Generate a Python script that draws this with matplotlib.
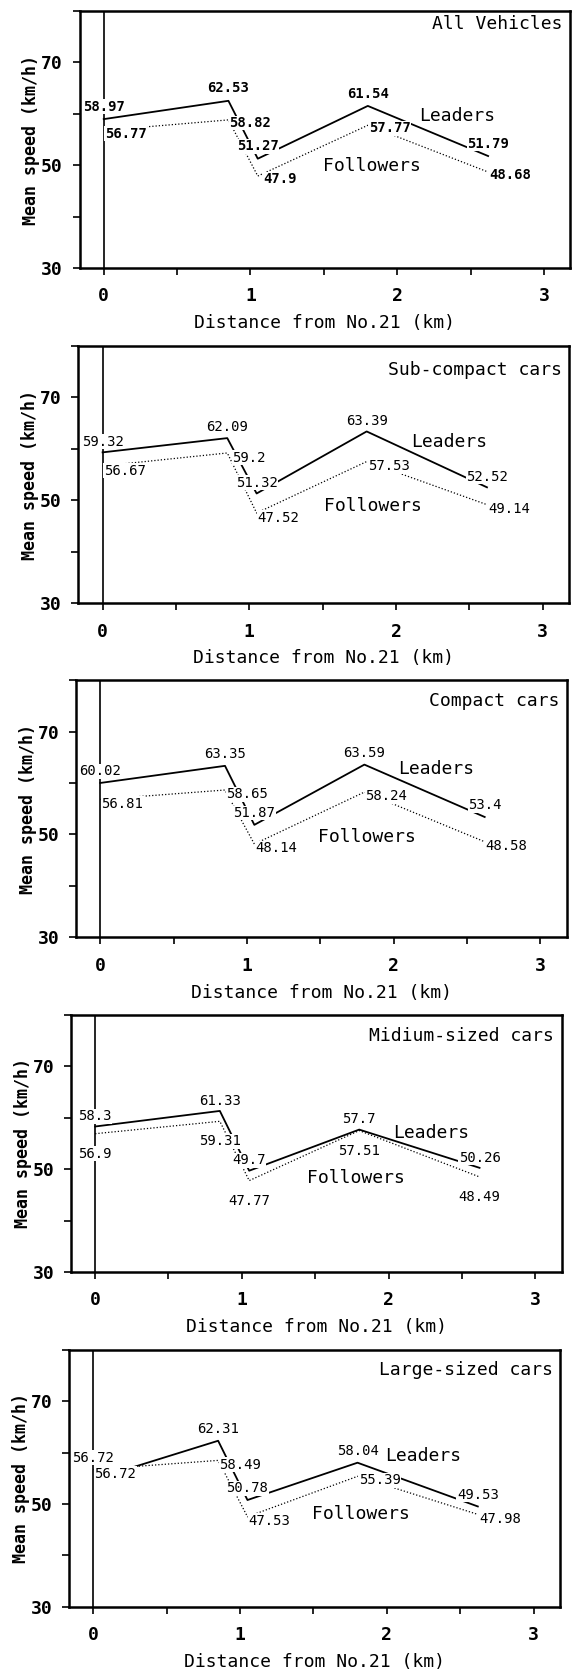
# 5-panel chart: mean speed of leaders / followers vs distance
import matplotlib.pyplot as plt
from matplotlib.ticker import MultipleLocator

plt.rcParams['font.family'] = ['DejaVu Sans Mono', 'DejaVu Sans']

titles = ['All Vehicles', 'Sub-compact cars', 'Compact cars',
          'Midium-sized cars', 'Large-sized cars']
dist = [0, 0.85, 1.05, 1.8, 2.62]
lead_start = [0, 0, 0, 0, 0.22]     # large-sized leaders line starts later

leaders = [
    [58.97, 62.53, 51.27, 61.54, 51.79],
    [59.32, 62.09, 51.32, 63.39, 52.52],
    [60.02, 63.35, 51.87, 63.59, 53.4],
    [58.3, 61.33, 49.7, 57.7, 50.26],
    [56.72, 62.31, 50.78, 58.04, 49.53],
]
followers = [
    [56.77, 58.82, 47.9, 57.77, 48.68],
    [56.67, 59.2, 47.52, 57.53, 49.14],
    [56.81, 58.65, 48.14, 58.24, 48.58],
    [56.9, 59.31, 47.77, 57.51, 48.49],
    [56.72, 58.49, 47.53, 55.39, 47.98],
]

# layout (axes positions, label offsets)
lefts = [0.139, 0.137, 0.133, 0.124, 0.121]
bottoms = [0.8396, 0.6391, 0.4391, 0.2388, 0.0384]
title_y = [0.95, 0.907, 0.918, 0.918, 0.922]
lead_dy = [2.4, 2.1, 2.3, 2.0, 2.3]
fol_dx = [0.15, 0.15, 0.15, 0.0, 0.15]
fol_dy = [-0.6, -0.9, -0.8, -3.9, -0.8]
lead_name_xy = [(2.41, 59.6), (2.36, 61.4), (2.29, 62.8), (2.29, 57.1), (2.25, 59.4)]
fol_name_xy = [(1.83, 49.8), (1.84, 48.8), (1.82, 49.5), (1.78, 48.3), (1.82, 48.0)]

fig = plt.figure(figsize=(5.72, 16.71), dpi=100)
box = dict(facecolor='white', edgecolor='none', pad=0.3)

for i in range(5):
    ax = fig.add_axes([lefts[i], bottoms[i], 0.858, 0.1538])
    ax.set_xlim(-0.165, 3.18)
    ax.set_ylim(30, 80)

    ax.axvline(0, color='black', lw=1.2, zorder=1)
    xl = [lead_start[i]] + dist[1:]
    ax.plot(xl, leaders[i], color='black', lw=1.3, zorder=2)
    ax.plot(dist, followers[i], color='black', lw=0.9, ls=(0, (1, 1.6)), zorder=2)

    w = 'bold' if i == 0 else 'normal'
    for j in range(len(dist)):
        ax.text(dist[j], leaders[i][j] + lead_dy[i], f'{leaders[i][j]:g}',
                ha='center', va='center', fontsize=10, fontweight=w,
                bbox=box, zorder=3)
        ax.text(dist[j] + fol_dx[i], followers[i][j] + fol_dy[i], f'{followers[i][j]:g}',
                ha='center', va='center', fontsize=10, fontweight=w,
                bbox=box, zorder=3)

    ax.text(*lead_name_xy[i], 'Leaders', ha='center', va='center', fontsize=13, zorder=3)
    ax.text(*fol_name_xy[i], 'Followers', ha='center', va='center', fontsize=13, zorder=3)
    ax.text(0.985, title_y[i], titles[i], transform=ax.transAxes,
            ha='right', va='center', fontsize=13)

    ax.set_yticks([30, 50, 70])
    ax.yaxis.set_minor_locator(MultipleLocator(10))
    ax.set_xticks([0, 1, 2, 3])
    ax.xaxis.set_minor_locator(MultipleLocator(0.5))
    ax.tick_params(which='both', direction='out', length=5, width=1.2)
    ax.tick_params(axis='x', which='major', pad=9, labelsize=13)
    ax.tick_params(axis='y', which='major', pad=7, labelsize=13)
    for lab in ax.get_xticklabels() + ax.get_yticklabels():
        lab.set_fontweight('bold')
    for s in ax.spines.values():
        s.set_linewidth(1.8)

    ax.set_xlabel('Distance from No.21 (km)', fontsize=13)
    ax.xaxis.set_label_coords(0.5, -0.18)
    ax.set_ylabel('Mean speed (km/h)', fontsize=12, fontweight='bold')
    ax.yaxis.set_label_coords(-0.08, 0.5)

fig.savefig('out.png', dpi=100)
